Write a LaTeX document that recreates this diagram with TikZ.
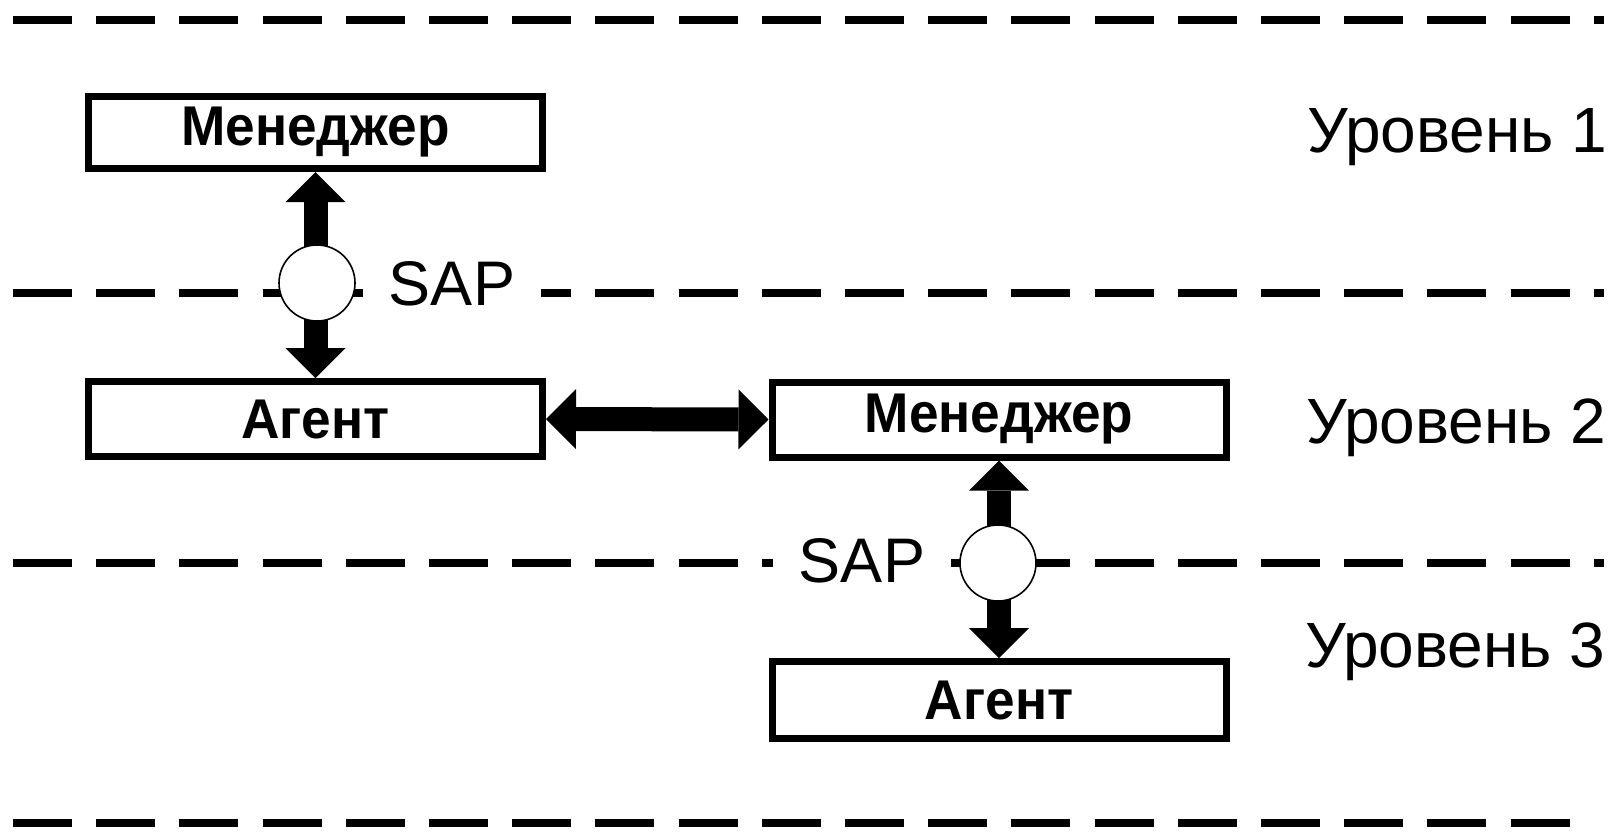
\documentclass[tikz,border=0pt]{standalone}
\usepackage{fontspec}
\setmainfont{Liberation Sans}
\newfontfamily\boxfont[FakeStretch=0.95]{Liberation Sans Bold}
\usetikzlibrary{arrows.meta}
\begin{document}
\begin{tikzpicture}[x=0.5pt,y=-0.5pt,
  box/.style={draw, line width=3.5pt, fill=white, minimum width=227pt, minimum height=37.5pt, inner sep=0pt, font=\boxfont\fontsize{28pt}{30pt}\selectfont},
  lvl/.style={anchor=base west, inner sep=0pt, font=\fontsize{32pt}{34pt}\selectfont},
  sap/.style={anchor=base, fill=white, inner xsep=13pt, inner ysep=2pt, font=\fontsize{31.5pt}{33pt}\selectfont},
  port/.style={circle, draw, line width=0.8pt, fill=white, minimum size=38pt, inner sep=0pt},
  link/.style={line width=12pt, {Triangle[width=30pt,length=15pt,line width=0pt]}-{Triangle[width=30pt,length=15pt,line width=0pt]}},
  layer/.style={line width=4pt, dash pattern=on 29.5pt off 12.1pt}
]
\useasboundingbox (0,0) rectangle (1612,832);
% layer boundaries
\draw[layer] (13,20) -- (1604,20);
\draw[layer] (13,293) -- (1604,293);
\draw[layer] (13,563) -- (1604,563);
\draw[layer] (13,823) -- (1570,823);
% boxes
\node[box, minimum height=36pt] (mgr1) at (315.5,132.5) {Менеджер};
\node[box] (agt1) at (315.5,419) {Агент};
\node[box] (mgr2) at (999,419.5) {Менеджер};
\node[box, minimum height=38.5pt] (agt2) at (999,700) {Агент};
% connectors
\draw[link] (mgr1.south) -- (agt1.north);
\draw[link] (agt1.east) -- (mgr2.west);
\draw[link] (mgr2.south) -- (agt2.north);
% service access points
\node[port] (sap1) at (317,283) {};
\node[port] (sap2) at (998,563) {};
\node[sap] (sapl1) at (452,305) {SAP};
\node[sap] (sapl2) at (862,582) {SAP};
% level labels
\node[lvl] (lv1) at (1307,152) {Уровень 1};
\node[lvl] (lv2) at (1306,443) {Уровень 2};
\node[lvl] (lv3) at (1305,667) {Уровень 3};
\end{tikzpicture}
\end{document}
